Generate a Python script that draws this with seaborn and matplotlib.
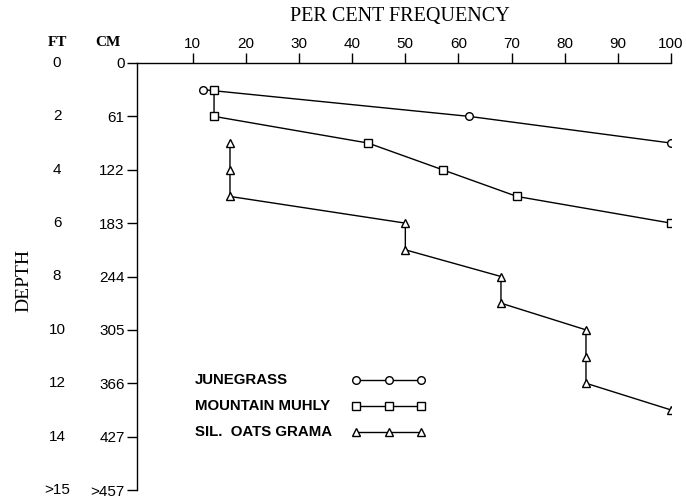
import matplotlib
matplotlib.use("Agg")
import matplotlib.pyplot as plt
import matplotlib.transforms as mtransforms
import seaborn as sns

# ---- data ----
june_pct = [12, 62, 100]
june_depth = [1, 2, 3]
muhly_pct = [14, 14, 43, 57, 71, 100]
muhly_depth = [1, 2, 3, 4, 5, 6]
grama_pct = [17, 17, 17, 50, 50, 68, 68, 84, 84, 84, 100]
grama_depth = [3, 4, 5, 6, 7, 8, 9, 10, 11, 12, 13]

x_ticks = [10, 20, 30, 40, 50, 60, 70, 80, 90, 100]
y_ticks = [0, 2, 4, 6, 8, 10, 12, 14, 16]
cm_labels = ["0", "61", "122", "183", "244", "305", "366", "427", ">457"]
ft_labels = ["0", "2", "4", "6", "8", "10", "12", "14", ">15"]
series_names = ["JUNEGRASS", "MOUNTAIN MUHLY", "SIL.  OATS GRAMA"]

sns.set_style("white")
plt.rcParams["font.family"] = ["Liberation Sans", "DejaVu Sans"]
plt.rcParams["text.color"] = "black"
plt.rcParams["xtick.color"] = "black"
plt.rcParams["ytick.color"] = "black"

SERIF = ["Liberation Serif", "DejaVu Serif"]

fig = plt.figure(figsize=(6.86, 5.01), dpi=100)
ax = fig.add_axes([137 / 686, 1 - 490 / 501, (671 - 137) / 686, (490 - 63) / 501])

common = dict(color="black", linewidth=1.0, sort=False, estimator=None,
              markersize=5.5, markerfacecolor="white", markeredgecolor="black",
              markeredgewidth=1.0, ax=ax)
sns.lineplot(x=june_pct, y=june_depth, marker="o", label=series_names[0], **common)
sns.lineplot(x=muhly_pct, y=muhly_depth, marker="s", label=series_names[1], **common)
sns.lineplot(x=grama_pct, y=grama_depth, marker="^", label=series_names[2], **common)

ax.set_xlim(-0.5, 100)
ax.set_ylim(16, 0)
ax.xaxis.tick_top()
ax.set_xticks(x_ticks)
ax.set_xticklabels([str(t) for t in x_ticks])
ax.set_yticks(y_ticks)
ax.set_yticklabels(cm_labels)
ax.tick_params(left=True, top=True, bottom=False, right=False)
ax.tick_params(axis="both", direction="out", length=7, width=1, color="black",
               labelcolor="black", labelsize=11)
ax.tick_params(axis="y", pad=2)
ax.tick_params(axis="x", pad=2)
for side in ["right", "bottom"]:
    ax.spines[side].set_visible(False)
for side in ["left", "top"]:
    ax.spines[side].set_color("black")
    ax.spines[side].set_linewidth(1.0)
ax.set_xlabel("")
ax.set_ylabel("")

# FT column
trans = mtransforms.blended_transform_factory(fig.transFigure, ax.transData)
for v, lab in zip(y_ticks, ft_labels):
    ax.text(57 / 686, v, lab, transform=trans, ha="center", va="center", fontsize=11,
            color="black")

fig.text(57 / 686, 1 - 42 / 501, "FT", ha="center", va="center", fontsize=11,
         fontweight="bold", family=SERIF)
fig.text(108 / 686, 1 - 42 / 501, "CM", ha="center", va="center", fontsize=11,
         fontweight="bold", family=SERIF)
fig.text(400 / 686, 1 - 17 / 501, "PER CENT FREQUENCY", ha="center", va="center",
         fontsize=14.5, family=SERIF)
fig.text(24 / 686, 1 - 280 / 501, "DEPTH", ha="center", va="center", fontsize=14,
         rotation=90, family=SERIF)

# legend: handles on the right, labels left-aligned as in the original
handles, labels = ax.get_legend_handles_labels()
leg = ax.legend(handles, ["", "", ""], loc="upper left",
                bbox_to_anchor=(352 / 686, 1 - 374 / 501),
                bbox_transform=fig.transFigure, frameon=False,
                numpoints=3, handlelength=5.3, handletextpad=0.0,
                labelspacing=0.85, borderpad=0, borderaxespad=0,
                prop={"size": 10})
fig.canvas.draw()
renderer = fig.canvas.get_renderer()
inv = fig.transFigure.inverted()
for line, name in zip(leg.get_lines(), labels):
    bb = line.get_window_extent(renderer)
    yc = (bb.y0 + bb.y1) / 2
    _, yf = inv.transform((0, yc))
    fig.text(195 / 686, yf, name, ha="left", va="center", fontsize=10.8,
             fontweight="bold", color="black")

fig.savefig("out.png", dpi=100)
